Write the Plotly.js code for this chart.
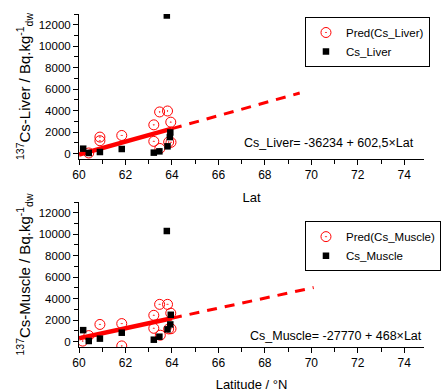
<!DOCTYPE html>
<html><head><meta charset="utf-8">
<script src="https://cdn.plot.ly/plotly-3.0.1.min.js"></script>
<style>html,body{margin:0;padding:0;background:#fff}#chart{width:441px;height:392px}</style>
</head><body><div id="chart"></div>
<script>
// Liver panel data
const liverLat = [60.18, 60.42, 60.90, 61.84, 63.22, 63.46, 63.81, 63.91, 63.93, 63.78];
const liverCs  = [460, 60, 150, 430, 90, 210, 680, 1540, 1970, 12860];
const liverPredLat = [60.42, 60.90, 60.90, 61.84, 63.22, 63.22, 63.47, 63.81, 63.95, 63.86, 63.96, 63.48];
const liverPred    = [60, 1540, 1200, 1690, 2680, 1140, 3880, 3970, 2930, 1080, 1050, 480];
const liverFit = {a: -36234, b: 602.5, x0: 60, x1: 64, xEnd: 69.5};

// Muscle panel data
const muscleLat = [60.18, 60.42, 60.90, 61.84, 63.22, 63.46, 63.81, 63.93, 63.95, 63.78];
const muscleCs  = [1070, 60, 280, 830, 180, 460, 1140, 1600, 2500, 10300];
const musclePredLat = [60.16, 60.42, 60.90, 61.84, 61.84, 63.22, 63.22, 63.47, 63.81, 63.95, 63.86, 63.96, 63.50];
const musclePred    = [50, 560, 1600, 1680, -400, 2450, 1240, 3470, 3470, 2650, 1180, 1200, 600];
const muscleFit = {a: -27770, b: 468, x0: 60, x1: 64, xEnd: 70.1};

const xTicks = [60, 62, 64, 66, 68, 70, 72, 74];
const yTicks = [0, 2000, 4000, 6000, 8000, 10000, 12000];

function fitLine(f, xa, xb) { return {x: [xa, xb], y: [f.a + f.b * xa, f.a + f.b * xb]}; }

const font = 'Arial, "Liberation Sans", sans-serif';
const red = '#ff0000';

function panel(lat, cs, pLat, pred, fit, nameObs, namePred, xa, ya, leg) {
  const s = fitLine(fit, fit.x0, fit.x1), d = fitLine(fit, fit.x1, fit.xEnd);
  return [
    {x: s.x, y: s.y, xaxis: xa, yaxis: ya, mode: 'lines', line: {color: red, width: 4.5}, showlegend: false, hoverinfo: 'skip'},
    {x: d.x, y: d.y, xaxis: xa, yaxis: ya, mode: 'lines', line: {color: red, width: 3, dash: '10px,8px'}, showlegend: false, hoverinfo: 'skip'},
    {x: pLat, y: pred, xaxis: xa, yaxis: ya, mode: 'markers', name: namePred, legend: leg,
     marker: {symbol: 'circle-open-dot', size: 10, color: red, line: {color: red, width: 1}}},
    {x: lat, y: cs, xaxis: xa, yaxis: ya, mode: 'markers', name: nameObs, legend: leg,
     marker: {symbol: 'square', size: 6.5, color: '#000'}}
  ];
}

const data = [
  ...panel(liverLat, liverCs, liverPredLat, liverPred, liverFit, 'Cs_Liver', 'Pred(Cs_Liver)', 'x', 'y', 'legend'),
  ...panel(muscleLat, muscleCs, musclePredLat, musclePred, muscleFit, 'Cs_Muscle', 'Pred(Cs_Muscle)', 'x2', 'y2', 'legend2')
];

function xax(title, anchor, standoff) {
  return {range: [60, 74.85], tickvals: xTicks, ticks: 'outside', ticklen: 5, tickcolor: '#000',
    showline: true, linecolor: '#000', linewidth: 1, showgrid: false, zeroline: false, anchor: anchor,
    minor: {dtick: 1, ticks: 'outside', ticklen: 4, tickcolor: '#000', showgrid: false},
    tickfont: {family: font, size: 12, color: '#000'},
    title: {text: title, font: {family: font, size: 13, color: '#000'}, standoff: standoff}};
}
function yax(title, domain, anchor) {
  return {range: [-500, 13000], domain: domain, tickvals: yTicks, tickformat: 'd', ticks: 'outside', ticklen: 5, tickcolor: '#000',
    showline: true, linecolor: '#000', linewidth: 1, showgrid: false, zeroline: false, anchor: anchor,
    minor: {dtick: 1000, ticks: 'outside', ticklen: 4, tickcolor: '#000', showgrid: false},
    tickfont: {family: font, size: 11.5, color: '#000'},
    title: {text: title, font: {family: font, size: 15, color: '#000'}, standoff: 4}};
}

const legendStyle = (y) => ({x: 0.655, y: y, xanchor: 'left', yanchor: 'top', bgcolor: '#fff',
  bordercolor: '#000', borderwidth: 1, font: {family: font, size: 11.5, color: '#000'},
  tracegroupgap: 0, itemsizing: 'trace', itemwidth: 30});

const layout = {
  width: 441, height: 392, margin: {l: 79, r: 0, t: 14, b: 45},
  paper_bgcolor: '#fff', plot_bgcolor: '#fff', showlegend: true,
  xaxis: xax('Lat', 'y', 11),
  yaxis: yax('<sup>137</sup>Cs-Liver / Bq.kg<sup>-1</sup><sub>dw</sub>', [0.5646, 1], 'x'),
  xaxis2: xax('Latitude / °N', 'y2', 14),
  yaxis2: yax('<sup>137</sup>Cs-Muscle / Bq.kg<sup>-1</sup><sub>dw</sub>', [0, 0.4354], 'x2'),
  legend: legendStyle(0.991),
  legend2: legendStyle(0.378),
  annotations: [
    {text: 'Cs_Liver= -36234 + 602,5×Lat', xref: 'paper', yref: 'paper', x: 0.978, y: 0.612, xanchor: 'right', yanchor: 'middle', showarrow: false, font: {family: font, size: 12.5, color: '#000'}},
    {text: 'Cs_Muscle= -27770 + 468×Lat', xref: 'paper', yref: 'paper', x: 1.0, y: 0.033, xanchor: 'right', yanchor: 'middle', showarrow: false, font: {family: font, size: 12.5, color: '#000'}}
  ]
};

Plotly.newPlot('chart', data, layout, {displayModeBar: false, staticPlot: true});
</script>
</body></html>
